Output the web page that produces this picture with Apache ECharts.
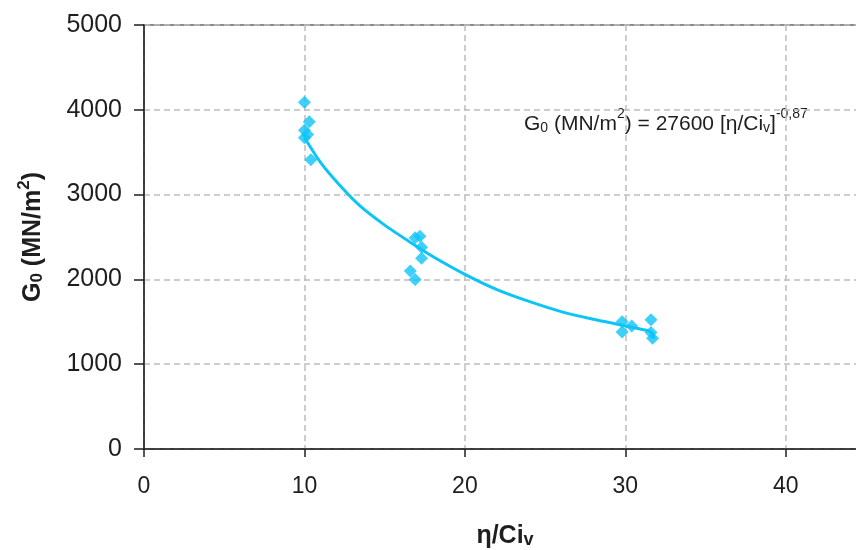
<!DOCTYPE html>
<html>
<head>
<meta charset="utf-8">
<script src="https://cdn.jsdelivr.net/npm/echarts@6/dist/echarts.min.js"></script>
<style>
html,body{margin:0;padding:0;background:#fff;}
#c{width:856px;height:550px;}
</style>
</head>
<body>
<div id="c"></div>
<script>
// Measured data points (η/Ci_v, G0)
const pointX = [10.0, 10.3, 10.0, 10.2, 10.0, 10.4, 16.9, 17.2, 17.3, 17.3, 16.6, 16.9, 29.8, 29.8, 30.4, 31.6, 31.6, 31.7];
const pointY = [4090, 3860, 3760, 3710, 3670, 3410, 2490, 2510, 2380, 2250, 2100, 2000, 1500, 1380, 1450, 1525, 1375, 1305];
// Trend curve
const curveX = [10.0, 11.0, 12.2, 13.5, 15.0, 16.5, 18.0, 20.0, 22.0, 24.0, 26.0, 28.0, 29.8, 31.3, 31.6, 31.8];
const curveY = [3670, 3380, 3110, 2860, 2640, 2450, 2270, 2060, 1880, 1740, 1620, 1530, 1460, 1400, 1380, 1300];
// Axis ticks
const xTicks = [0, 10, 20, 30, 40];
const yTicks = [0, 1000, 2000, 3000, 4000, 5000];

const cyan = '#0EC4F7';
const font = '"Liberation Sans", Arial, sans-serif';
const ink = '#1e1e1e';

const chart = echarts.init(document.getElementById('c'), null, {renderer: 'canvas'});
const gridLine = {show: true, lineStyle: {color: '#BDBDBD', width: 1.5, type: [6, 4]}};

chart.setOption({
  animation: false,
  backgroundColor: '#fff',
  grid: {left: 144, top: 25, width: 722, height: 424, containLabel: false,
    outerBoundsMode: 'none',
    show: true, borderColor: '#8c8c8c', borderWidth: 2, backgroundColor: 'transparent'},
  xAxis: {
    type: 'value', min: xTicks[0], max: 45, interval: 10,
    axisLine: {show: true, onZero: false, lineStyle: {color: ink, width: 1.5}},
    axisTick: {show: true, length: 8, lineStyle: {color: ink, width: 1.5},
      customValues: xTicks},
    axisLabel: {fontFamily: font, fontSize: 23, color: ink, margin: 26,
      customValues: xTicks, formatter: v => String(v)},
    splitLine: gridLine,
    name: '{b|η/Ci}{s|v}',
    nameLocation: 'middle', nameGap: 70,
    nameTextStyle: {rich: {
      b: {fontFamily: font, fontWeight: 'bold', fontSize: 25, color: ink, lineHeight: 30, verticalAlign: 'bottom'},
      s: {fontFamily: font, fontWeight: 'bold', fontSize: 18, color: ink, lineHeight: 16, verticalAlign: 'bottom'}
    }}
  },
  yAxis: {
    type: 'value', min: yTicks[0], max: yTicks[yTicks.length - 1], interval: 1000,
    axisLine: {show: true, onZero: false, lineStyle: {color: ink, width: 1.5}},
    axisTick: {show: true, length: 10, lineStyle: {color: ink, width: 1.5}},
    axisLabel: {fontFamily: font, fontSize: 25, color: ink, margin: 22, formatter: v => String(v)},
    splitLine: gridLine,
    name: '{b|G}{s|0}{b| (MN/m}{p|2}{b|)}',
    nameLocation: 'middle', nameRotate: 90, nameGap: 98,
    nameTextStyle: {rich: {
      b: {fontFamily: font, fontWeight: 'bold', fontSize: 25, color: ink, lineHeight: 30, verticalAlign: 'bottom'},
      s: {fontFamily: font, fontWeight: 'bold', fontSize: 17, color: ink, lineHeight: 18, verticalAlign: 'bottom'},
      p: {fontFamily: font, fontWeight: 'bold', fontSize: 17, color: ink, lineHeight: 14, verticalAlign: 'top'}
    }}
  },
  series: [{
    type: 'line',
    data: curveX.map((x, i) => [x, curveY[i]]),
    showSymbol: false, symbol: 'none',
    smooth: 0.2,
    lineStyle: {color: cyan, width: 3},
    z: 2
  }, {
    type: 'scatter',
    data: pointX.map((x, i) => [x, pointY[i]]),
    symbol: 'diamond', symbolSize: 13,
    itemStyle: {color: cyan},
    z: 3
  }],
  graphic: [{
    type: 'text', left: 524, top: 107,
    style: {
      text: '{t|G}{s|0}{t| (MN/m}{p|2}{t|) = 27600 [η/Ci}{s|v}{t|]}{q|-0,87}',
      rich: {
        t: {fontFamily: font, fontSize: 21, fill: ink, lineHeight: 28, verticalAlign: 'bottom'},
        s: {fontFamily: font, fontSize: 14, fill: ink, lineHeight: 12, verticalAlign: 'bottom'},
        p: {fontFamily: font, fontSize: 14, fill: ink, lineHeight: 20, verticalAlign: 'top'},
        q: {fontFamily: font, fontSize: 14, fill: ink, lineHeight: 14, verticalAlign: 'top'}
      }
    }
  }]
});
</script>
</body>
</html>
